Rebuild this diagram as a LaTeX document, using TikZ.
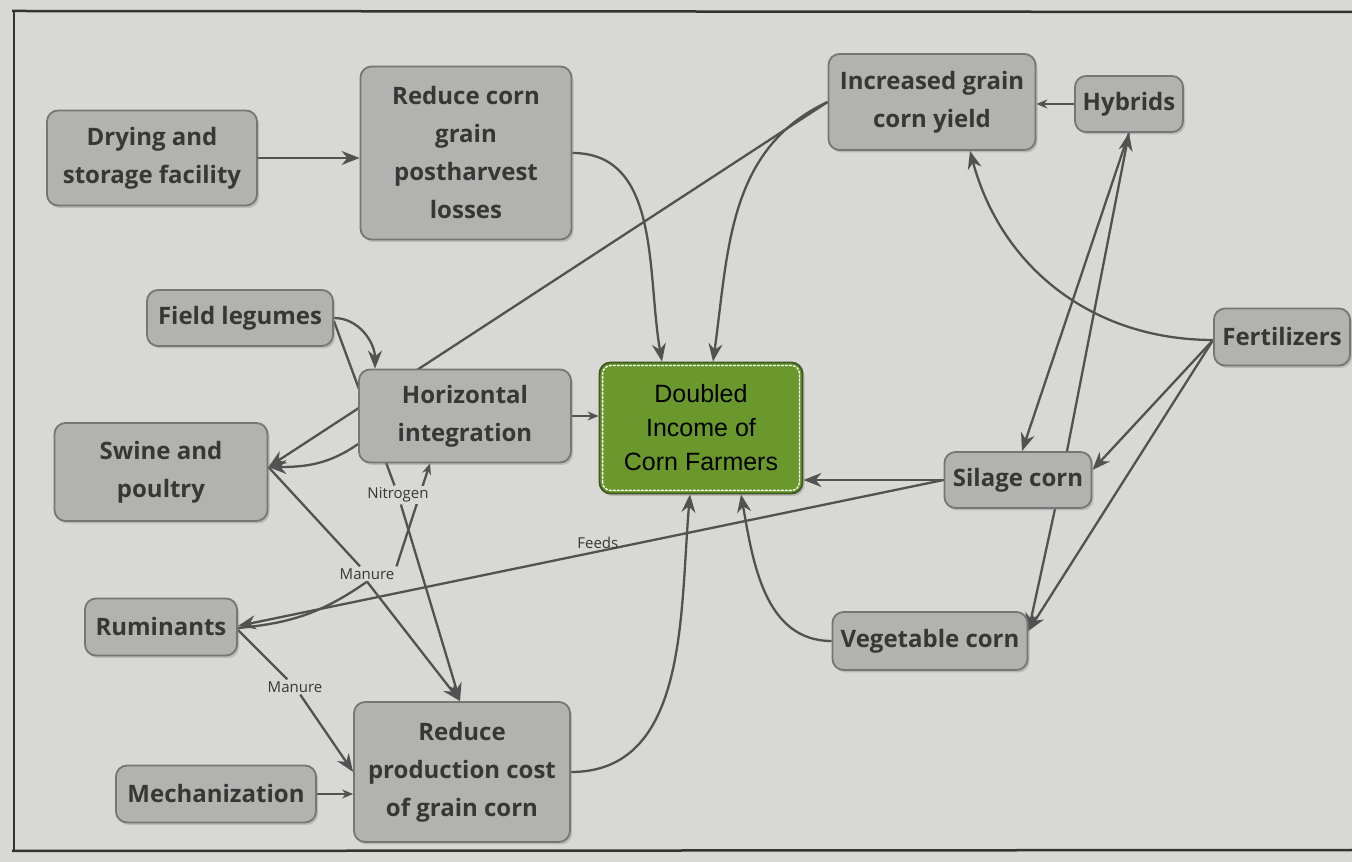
\documentclass[tikz,border=0pt]{standalone}
\usepackage{fontspec}
\setmainfont{Open Sans}
\newfontfamily\goalfont{Liberation Sans}
\usetikzlibrary{arrows.meta,shadows,backgrounds}

\definecolor{pagebg}{RGB}{216,216,213}
\definecolor{boxfill}{RGB}{178,178,176}
\definecolor{boxline}{RGB}{118,118,118}
\definecolor{ink}{RGB}{55,55,55}
\definecolor{lineclr}{RGB}{82,82,82}
\definecolor{goalgreen}{RGB}{106,152,44}
\definecolor{goalline}{RGB}{62,88,34}

\tikzset{
  concept/.style={draw=boxline, line width=1.8pt, fill=boxfill, rounded corners=11pt,
    text=ink, align=center, inner sep=0pt, font=\bfseries\fontsize{24}{38}\selectfont,
    drop shadow={shadow xshift=2pt, shadow yshift=-2.5pt, opacity=.35}},
  goal/.style={concept, fill=goalgreen, draw=goalline, text=black,
    font=\goalfont\fontsize{25}{34}\selectfont},
  linkword/.style={text=ink, fill=pagebg, inner sep=2pt, font=\fontsize{15}{18}\selectfont},
  conn/.style={draw=lineclr, line width=2.3pt},
  arr/.style={conn, -{Stealth[length=18pt,width=14pt]}},
  arrsmall/.style={conn, -{Stealth[length=11pt,width=9pt]}},
}

\begin{document}
\begin{tikzpicture}[x=1pt, y=1pt, line cap=round, line join=round]
\useasboundingbox (0,0) rectangle (1352,862);

% Concepts, left column
\node[concept, minimum width=210pt, minimum height=95pt] (dry) at (152,704) {Drying and\\storage facility};
\node[concept, minimum width=186pt, minimum height=56pt] (legumes) at (240,544) {Field legumes};
\node[concept, minimum width=213pt, minimum height=98pt] (swine) at (161,390) {Swine and\\poultry};
\node[concept, minimum width=152pt, minimum height=57pt] (rumin) at (161,235) {Ruminants};
\node[concept, minimum width=200pt, minimum height=57pt] (mech) at (216,68) {Mechanization};

% Concepts, middle column
\node[concept, minimum width=211pt, minimum height=173pt] (post) at (466,709) {Reduce corn\\grain\\postharvest\\losses};
\node[concept, minimum width=212pt, minimum height=93pt] (horiz) at (465,446) {Horizontal\\integration};
\node[concept, minimum width=216pt, minimum height=140pt] (prod) at (462,90) {Reduce\\production cost\\of grain corn};

% Goal
\node[goal, minimum width=203pt, minimum height=131pt] (income) at (701,434) {Doubled\\Income of\\Corn Farmers};
\draw[white, line width=1.3pt, dash pattern=on 2pt off 2pt, rounded corners=8pt]
  ([shift={(4pt,4pt)}]income.south west) rectangle ([shift={(-4pt,-4pt)}]income.north east);

% Concepts, right side
\node[concept, minimum width=207pt, minimum height=96pt] (yield) at (932,760) {Increased grain\\corn yield};
\node[concept, minimum width=108pt, minimum height=56pt] (hybrids) at (1129,758) {Hybrids};
\node[concept, minimum width=136pt, minimum height=57pt] (fert) at (1282,525) {Fertilizers};
\node[concept, minimum width=147pt, minimum height=56pt] (silage) at (1018,382) {Silage corn};
\node[concept, minimum width=195pt, minimum height=58pt] (veg) at (930,221) {Vegetable corn};

% Linking words
\node[linkword] (nitro) at (398,367) {Nitrogen};
\node[linkword] (manA) at (367,288) {Manure};
\node[linkword] (manB) at (295,175) {Manure};

\begin{pgfonlayer}{background}
% Page and frame
\fill[pagebg] (0,0) rectangle (1352,862);
\draw[black!80, line width=2.5pt] (1352,850) -- (12,851);
\draw[black!80, line width=1.5pt] (14,851) -- (14,11);
\draw[black!80, line width=2.5pt] (12,11) -- (1352,12);

% Connections into the goal
\draw[arr] (dry.east) -- (dry.east -| post.west);
\draw[arr] (post.east) to[out=0, in=100] ([xshift=-39pt]income.north);
\draw[arr] (yield.west) to[out=205, in=82] ([xshift=12pt]income.north);
\draw[arrsmall] (horiz.east) -- (horiz.east -| income.west);
\draw[arr] (prod.east) to[out=0, in=265] ([xshift=-11pt]income.south);
\draw[arr] (veg.west) to[out=180, in=280] ([xshift=40pt]income.south);
\draw[arr] (silage.west) -- (silage.west -| income.east);

% Left side
\draw[arr] (yield.west) -- ([yshift=5pt]swine.east);
\draw[arr] ([yshift=-28pt]horiz.west) to[out=215, in=0] ([yshift=5pt]swine.east);
\draw[arr] (legumes.east) to[out=0, in=90] ([xshift=-90pt]horiz.north);
\draw[conn] ([yshift=-3pt]legumes.east) -- (nitro);
\draw[arr] (nitro) -- ([xshift=-2pt]prod.north);
\draw[conn] ([yshift=5pt]swine.east) -- (manA);
\draw[conn] ([yshift=-1pt]rumin.east) to[out=5, in=215] (manA.south);
\draw[arr] (manA.south) -- ([xshift=-2pt]prod.north);
\draw[arrsmall] (manA.north east) -- ([xshift=-35pt]horiz.south);
\draw[conn] ([yshift=-3pt]rumin.east) -- (manB);
\draw[arr] (manB) -- (prod.west);
\draw[arrsmall] (mech.east) -- (mech.east -| prod.west);
\draw[arr] (silage.west) -- node[linkword, above, pos=.49, fill=none] (feeds) {Feeds} ([yshift=1pt]rumin.east);

% Right side
\draw[arrsmall] (hybrids.west) -- (hybrids.west -| yield.east);
\draw[arr] ([yshift=-3pt]fert.west) to[out=180, in=285] ([xshift=38pt]yield.south);
\draw[arr] ([yshift=-3pt]fert.west) -- ([yshift=10pt]silage.east);
\draw[arr] ([yshift=-3pt]fert.west) -- ([yshift=10pt]veg.east);
\draw[arr] ([xshift=37pt]silage.south) -- ([yshift=10pt]veg.east);
\draw[arr] ([xshift=49pt]silage.north) -- (hybrids.south);
\draw[arr] (hybrids.south) -- ([xshift=4pt]silage.north);
\end{pgfonlayer}

\end{tikzpicture}
\end{document}
